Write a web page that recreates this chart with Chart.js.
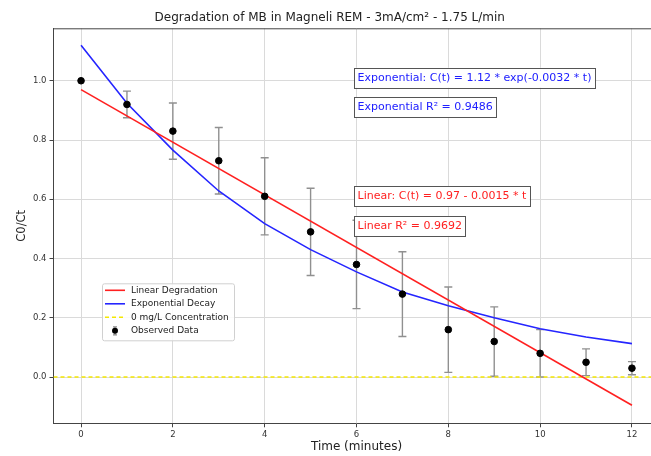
<!DOCTYPE html>
<html>
<head>
<meta charset="utf-8">
<script src="https://cdn.jsdelivr.net/npm/chart.js@4"></script>
<style>
  html, body { margin: 0; padding: 0; background: #fff; overflow: hidden; }
  #wrap { width: 680px; height: 456px; }
</style>
</head>
<body>
<div id="wrap"><canvas id="chart" width="680" height="456"></canvas></div>
<script>
const FONT = '"DejaVu Sans", sans-serif';

// measured data (minutes, C0/Ct)
const TIMES    = [0, 1, 2, 3, 4, 5, 6, 7, 8, 9, 10, 11, 12];
const OBSERVED = [1.00, 0.92, 0.83, 0.73, 0.61, 0.49, 0.38, 0.28, 0.16, 0.12, 0.08, 0.05, 0.03];
const ERRORS   = [0, 0.045, 0.095, 0.112, 0.13, 0.147, 0.149, 0.143, 0.144, 0.117, 0.08, 0.045, 0.022];
const EXP_FIT  = [1.12, 0.924, 0.766, 0.628, 0.518, 0.43, 0.355, 0.287, 0.241, 0.20, 0.163, 0.135, 0.113];
const LIN_T    = [0, 12];
const LIN_FIT  = [0.97, -0.095];
const ZERO_T   = [-0.6, 12.6];
const ZERO_Y   = [0, 0];

const X_TICKS = [0, 2, 4, 6, 8, 10, 12];
const Y_TICKS = [0.0, 0.2, 0.4, 0.6, 0.8, 1.0];

const NOTES = [
  { text: 'Exponential: C(t) = 1.12 * exp(-0.0032 * t)', t: 6, y: 1.0, color: '#2020ff' },
  { text: 'Exponential R\u00b2 = 0.9486',                 t: 6, y: 0.9, color: '#2020ff' },
  { text: 'Linear: C(t) = 0.97 - 0.0015 * t',            t: 6, y: 0.6, color: '#ff2020' },
  { text: 'Linear R\u00b2 = 0.9692',                     t: 6, y: 0.5, color: '#ff2020' },
];

const pts = (xs, ys) => xs.map((x, i) => ({ x, y: ys[i] }));

// error bars under the lines and markers
const errorBars = {
  id: 'errorBars',
  beforeDatasetsDraw(chart) {
    const { ctx, scales: { x, y }, chartArea: a } = chart;
    ctx.save();
    ctx.beginPath();
    ctx.rect(a.left, a.top, a.right - a.left, a.bottom - a.top);
    ctx.clip();
    ctx.strokeStyle = '#909090';
    ctx.lineWidth = 1.4;
    TIMES.forEach((t, i) => {
      if (!ERRORS[i]) return;
      const px = x.getPixelForValue(t);
      const top = y.getPixelForValue(OBSERVED[i] + ERRORS[i]);
      const bot = y.getPixelForValue(OBSERVED[i] - ERRORS[i]);
      ctx.beginPath();
      ctx.moveTo(px, top); ctx.lineTo(px, bot);
      ctx.moveTo(px - 4, top); ctx.lineTo(px + 4, top);
      ctx.moveTo(px - 4, bot); ctx.lineTo(px + 4, bot);
      ctx.stroke();
    });
    ctx.restore();
  }
};

// top spine, text boxes, legend
const extras = {
  id: 'extras',
  afterDraw(chart) {
    const { ctx, scales: { x, y }, chartArea: a } = chart;
    ctx.save();
    ctx.strokeStyle = '#444';
    ctx.lineWidth = 1;
    ctx.beginPath();
    ctx.moveTo(a.left, a.top + 0.5); ctx.lineTo(a.right, a.top + 0.5);
    ctx.stroke();

    ctx.font = '11px ' + FONT;
    ctx.textBaseline = 'alphabetic';
    NOTES.forEach(n => {
      const px = x.getPixelForValue(n.t);
      const py = y.getPixelForValue(n.y);
      const w = ctx.measureText(n.text).width;
      ctx.fillStyle = '#fff';
      ctx.fillRect(px - 2.5, py - 13, w + 7, 20);
      ctx.strokeStyle = '#555';
      ctx.strokeRect(Math.round(px - 2.5) + 0.5, Math.round(py - 13) + 0.5, Math.round(w + 7), 20);
      ctx.fillStyle = n.color;
      ctx.fillText(n.text, px + 1, py);
    });

    // legend
    const lx = a.left + 48.5, ly = a.top + 255;
    ctx.fillStyle = 'rgba(255,255,255,0.85)';
    ctx.strokeStyle = '#d0d0d0';
    ctx.beginPath();
    ctx.roundRect(lx + 0.5, ly + 0.5, 132, 57, 2);
    ctx.fill(); ctx.stroke();
    ctx.font = '9px ' + FONT;
    ctx.textBaseline = 'middle';
    chart.data.datasets.forEach((ds, i) => {
      const ry = ly + 7 + i * 13.5;
      if (ds.showLine === false) {
        ctx.strokeStyle = '#8a8a8a';
        ctx.lineWidth = 1.2;
        ctx.beginPath();
        ctx.moveTo(lx + 13, ry - 4); ctx.lineTo(lx + 13, ry + 4);
        ctx.moveTo(lx + 11, ry - 4); ctx.lineTo(lx + 15, ry - 4);
        ctx.moveTo(lx + 11, ry + 4); ctx.lineTo(lx + 15, ry + 4);
        ctx.stroke();
        ctx.fillStyle = '#000';
        ctx.beginPath();
        ctx.arc(lx + 13, ry, 3, 0, Math.PI * 2);
        ctx.fill();
      } else {
        ctx.strokeStyle = ds.borderColor;
        ctx.lineWidth = ds.borderWidth;
        ctx.setLineDash(ds.borderDash || []);
        ctx.beginPath();
        ctx.moveTo(lx + 3, ry); ctx.lineTo(lx + 23, ry);
        ctx.stroke();
        ctx.setLineDash([]);
      }
      ctx.fillStyle = '#222';
      ctx.fillText(ds.label, lx + 29, ry);
    });
    ctx.restore();
  }
};

new Chart(document.getElementById('chart'), {
  type: 'line',
  data: {
    datasets: [
      { label: 'Linear Degradation', data: pts(LIN_T, LIN_FIT), borderColor: '#ff2020', borderWidth: 1.6, pointRadius: 0, order: 2 },
      { label: 'Exponential Decay', data: pts(TIMES, EXP_FIT), borderColor: '#2525ff', borderWidth: 1.6, pointRadius: 0, order: 3 },
      { label: '0 mg/L Concentration', data: pts(ZERO_T, ZERO_Y), borderColor: '#f5e800', borderWidth: 1.6, borderDash: [4, 3], pointRadius: 0, order: 4 },
      { label: 'Observed Data', data: pts(TIMES, OBSERVED), showLine: false, pointRadius: 3.3, pointBackgroundColor: '#000', pointBorderColor: '#000', borderColor: '#000', order: 1 },
    ]
  },
  options: {
    responsive: false,
    animation: false,
    devicePixelRatio: 1,
    layout: { padding: { right: 20.5, left: 0, bottom: 0 } },
    plugins: {
      legend: { display: false },
      tooltip: { enabled: false },
      title: {
        display: true,
        text: 'Degradation of MB in Magneli REM - 3mA/cm\u00b2 - 1.75 L/min',
        color: '#222',
        font: { family: FONT, size: 12, weight: 'normal' },
        padding: { top: 11.1, bottom: 2.8 }
      }
    },
    scales: {
      x: {
        type: 'linear',
        min: -0.6, max: 12.6,
        afterFit: s => { s.height = 32.7; },
        afterBuildTicks: s => { s.ticks = X_TICKS.map(v => ({ value: v })); },
        ticks: { color: '#333', font: { family: FONT, size: 8.5 }, padding: 2, maxRotation: 0, callback: v => String(v) },
        grid: { color: '#dadada', tickColor: '#444', tickLength: 4, lineWidth: 1 },
        border: { color: '#444', width: 1 },
        title: { display: true, text: 'Time (minutes)', color: '#222', font: { family: FONT, size: 12 }, padding: { top: 0, bottom: 1.8 } }
      },
      y: {
        min: -0.156, max: 1.177,
        afterFit: s => { s.width = 53.5; },
        afterBuildTicks: s => { s.ticks = Y_TICKS.map(v => ({ value: v })); },
        ticks: { color: '#333', font: { family: FONT, size: 8.5 }, padding: 3, callback: v => v.toFixed(1) },
        grid: { color: '#dadada', tickColor: '#444', tickLength: 4, lineWidth: 1 },
        border: { color: '#444', width: 1 },
        title: { display: true, text: 'C0/Ct', color: '#222', font: { family: FONT, size: 11.5 }, padding: { top: 15.2, bottom: 0 } }
      }
    }
  },
  plugins: [errorBars, extras]
});
</script>
</body>
</html>
